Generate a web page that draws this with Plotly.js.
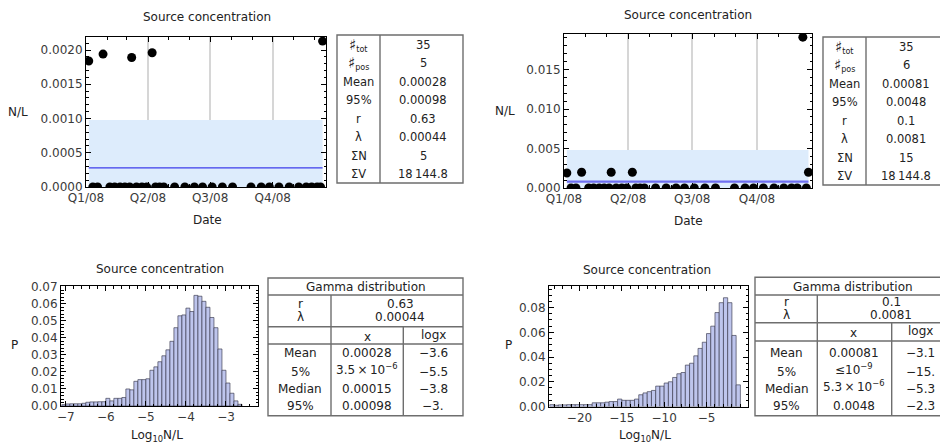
<!DOCTYPE html>
<html><head><meta charset="utf-8">
<script src="https://cdn.plot.ly/plotly-3.0.1.min.js"></script>
<style>html,body{margin:0;padding:0;background:#fff;}#chart{width:940px;height:448px;}</style>
</head><body><div id="chart"></div>
<script>
// ---------------- data ----------------
const sampleDates = ['2008-01-05','2008-01-11','2008-01-18','2008-01-26','2008-02-05','2008-02-12','2008-02-20','2008-02-27','2008-03-05','2008-03-08',
  '2008-03-15','2008-03-23','2008-03-30','2008-04-07','2008-04-12','2008-04-18','2008-04-24','2008-05-10','2008-05-25','2008-06-08',
  '2008-06-20','2008-07-04','2008-07-19','2008-08-03','2008-08-30','2008-09-14','2008-09-26','2008-10-10','2008-10-25','2008-11-08',
  '2008-11-19','2008-11-27','2008-12-05','2008-12-10','2008-12-13'];
const concA = [0.00184,0,0,0.00194,0,0,0,0,0,0.00189,
  0,0,0,0.00196,0,0,0,0,0,0,
  0,0,0,0,0,0,0,0,0,0,
  0,0,0,0,0.00213];
const concB = [0.0019,0,0,0.0020,0,0,0,0,0,0.0020,
  0,0,0,0.0020,0,0,0,0,0,0,
  0,0,0,0,0,0,0,0,0,0,
  0,0,0.0191,0,0.0020];
const meanA = 0.00028, upperA = 0.00098;
const meanB = 0.00081, upperB = 0.0048;
const quarterTicks = ['2008-01-01','2008-04-01','2008-07-01','2008-10-01'];
const quarterLabels = ['Q1/08','Q2/08','Q3/08','Q4/08'];

const histABinStart = -7.1, histABinWidth = 0.1;
const histAProb = [0.0008,0.0012,0.0013,0.0013,0.0013,0.0016,0.0022,0.0024,0.0024,0.0025,
  0.0025,0.0045,0.003,0.0045,0.0045,0.005,0.010,0.0095,0.0145,0.0155,
  0.0155,0.016,0.021,0.023,0.026,0.0295,0.033,0.038,0.046,0.053,
  0.0535,0.0575,0.0555,0.065,0.0645,0.0615,0.058,0.052,0.046,0.0335,
  0.021,0.0135,0.0075,0.003,0.001];
const histBBinStart = -23.5, histBBinWidth = 0.5;
const histBProb = [0.0015,0.001,0.0013,0.0013,0.0015,0.0015,0.0015,0.0015,0.0015,0.0015,
  0.003,0.003,0.003,0.0035,0.004,0.004,0.006,0.005,0.005,0.005,
  0.006,0.0095,0.011,0.012,0.013,0.0165,0.0165,0.019,0.020,0.0235,
  0.0265,0.0275,0.0335,0.035,0.041,0.047,0.052,0.059,0.065,0.076,
  0.084,0.088,0.084,0.0575,0.0175];

const SHARP = '<span style="font-size:15px">\u266F</span>';
const statLabels = [SHARP + '<sub>tot</sub>', SHARP + '<sub>pos</sub>','Mean','95%','r','\u03BB','\u03A3N','\u03A3V'];
const statsA = ['35','5','0.00028','0.00098','0.63','0.00044','5','18\u2009144.8'];
const statsB = ['35','6','0.00081','0.0048','0.1','0.0081','15','18\u2009144.8'];
const gammaTitle = 'Gamma distribution';
const gammaParamLabels = ['r','\u03BB'];
const gammaParamsA = ['0.63','0.00044'];
const gammaParamsB = ['0.1','0.0081'];
const gammaColHeads = ['x','logx'];
const gammaRowLabels = ['Mean','5%','Median','95%'];
const gammaXA = ['0.00028','3.5\u2009\u00D7\u200910<sup>\u22126</sup>','0.00015','0.00098'];
const gammaLogA = ['\u22123.6','\u22125.5','\u22123.8','\u22123.'];
const gammaXB = ['0.00081','\u226410<sup>\u22129</sup>','5.3\u2009\u00D7\u200910<sup>\u22126</sup>','0.0048'];
const gammaLogB = ['\u22123.1','\u221215.','\u22125.3','\u22122.3'];
const plotTitle = 'Source concentration';

// ---------------- helpers ----------------
const W = 940, H = 448;
const FONT = 'DejaVu Sans, Verdana, sans-serif';
const px = x => x / W;
const py = y => 1 - y / H;
const annotations = [];
const shapes = [];
function txt(x, y, text, size, extra) {
  annotations.push(Object.assign({xref:'paper', yref:'paper', x:px(x), y:py(y), text:text, showarrow:false,
    xanchor:'center', yanchor:'middle', font:{family:FONT, size:size, color:'#222'}}, extra || {}));
}
function line(x0, y0, x1, y1) {
  shapes.push({type:'line', xref:'paper', yref:'paper', x0:px(x0), y0:py(y0), x1:px(x1), y1:py(y1),
    line:{color:'#6e6e6e', width:1.4}});
}
function rect(x0, y0, x1, y1) {
  shapes.push({type:'rect', xref:'paper', yref:'paper', x0:px(x0), y0:py(y0), x1:px(x1), y1:py(y1),
    line:{color:'#6e6e6e', width:1.4}, fillcolor:'rgba(0,0,0,0)'});
}
function baseAxis(domain, anchor, extra) {
  return Object.assign({domain:domain, anchor:anchor, showline:true, linecolor:'#000', linewidth:1,
    mirror:'allticks', ticks:'inside', ticklen:5, tickcolor:'#000', tickwidth:1,
    tickfont:{family:FONT, size:12, color:'#3a3a3a'}, zeroline:false, showgrid:false, fixedrange:true}, extra);
}
const binCenters = (start, width, n) => Array.from({length:n}, (_, i) => start + width * (i + 0.5));

// ---------------- traces ----------------
const first = sampleDates[0], last = sampleDates[sampleDates.length - 1];
const traces = [];
function timePanel(xa, ya, conc, mean, upper, lineWidth, lineColor) {
  traces.push({type:'scatter', mode:'lines', x:[first, last, last, first, first], y:[0, 0, upper, upper, 0],
    fill:'toself', fillcolor:'rgb(221,236,252)', line:{width:0}, xaxis:xa, yaxis:ya, hoverinfo:'skip'});
  traces.push({type:'scatter', mode:'lines', x:[first, last], y:[mean, mean],
    line:{color:lineColor, width:lineWidth}, xaxis:xa, yaxis:ya});
  traces.push({type:'scatter', mode:'markers', x:sampleDates, y:conc,
    marker:{color:'#000', size:9}, xaxis:xa, yaxis:ya});
}
timePanel('x', 'y', concA, meanA, upperA, 1.3, 'rgb(60,60,235)');
timePanel('x2', 'y2', concB, meanB, upperB, 2.2, 'rgb(110,110,240)');

function histPanel(xa, ya, start, width, probs) {
  traces.push({type:'bar', x:binCenters(start, width, probs.length), y:probs,
    width:probs.map(() => width), xaxis:xa, yaxis:ya,
    marker:{color:'rgb(190,197,237)', line:{color:'rgba(55,55,75,0.65)', width:1}}});
}
histPanel('x3', 'y3', histABinStart, histABinWidth, histAProb);
histPanel('x4', 'y4', histBBinStart, histBBinWidth, histBProb);

// ---------------- axes ----------------
const dateAxis = (domain, anchor) => baseAxis(domain, anchor, {type:'date', range:['2008-01-01', '2008-12-18'],
  tickmode:'array', tickvals:quarterTicks, ticktext:quarterLabels, showgrid:true, gridcolor:'#d6d6d6', gridwidth:1.5,
  minor:{tickmode:'linear', tick0:'2008-01-01', dtick:'M1', ticks:'inside', ticklen:3, tickcolor:'#000', showgrid:false}});

const layout = {
  width:W, height:H, margin:{l:0, r:0, t:0, b:0}, paper_bgcolor:'#fff', plot_bgcolor:'#fff',
  showlegend:false, bargap:0, barmode:'overlay',
  xaxis: dateAxis([px(86), px(326)], 'y'),
  yaxis: baseAxis([py(187), py(37)], 'x', {range:[0, 0.00219], dtick:0.0005, tick0:0, tickformat:'.4f',
    minor:{dtick:0.0001, ticks:'inside', ticklen:2.5, tickcolor:'#000'}}),
  xaxis2: dateAxis([px(564), px(812)], 'y2'),
  yaxis2: baseAxis([py(188), py(34)], 'x2', {range:[0, 0.0195], dtick:0.005, tick0:0, tickformat:'.3f',
    minor:{dtick:0.001, ticks:'inside', ticklen:2.5, tickcolor:'#000'}}),
  xaxis3: baseAxis([px(61), px(258)], 'y3', {range:[-7.12, -2.2], dtick:1, tick0:0,
    minor:{dtick:0.2, ticks:'inside', ticklen:2.5, tickcolor:'#000'}}),
  yaxis3: baseAxis([py(406), py(286)], 'x3', {range:[0, 0.0705], dtick:0.01, tick0:0, tickformat:'.2f',
    minor:{dtick:0.002, ticks:'inside', ticklen:2.5, tickcolor:'#000'}}),
  xaxis4: baseAxis([px(549), px(748)], 'y4', {range:[-23.6, -0.1], dtick:5, tick0:0,
    minor:{dtick:1, ticks:'inside', ticklen:2.5, tickcolor:'#000'}}),
  yaxis4: baseAxis([py(406.5), py(286)], 'x4', {range:[0, 0.0975], dtick:0.02, tick0:0, tickformat:'.2f',
    minor:{dtick:0.005, ticks:'inside', ticklen:2.5, tickcolor:'#000'}}),
  annotations: annotations, shapes: shapes
};

// ---------------- titles and axis labels ----------------
txt(207, 17, plotTitle, 12);
txt(688, 15, plotTitle, 12);
txt(160, 269, plotTitle, 12);
txt(647, 270, plotTitle, 12);
txt(18, 112, 'N/L', 12);
txt(505, 111, 'N/L', 12);
txt(207, 220, 'Date', 12);
txt(688, 221, 'Date', 12);
txt(15, 345, 'P', 12);
txt(508, 345, 'P', 12);
txt(157, 436, 'Log<sub>10</sub>N/L', 12);
txt(645, 436, 'Log<sub>10</sub>N/L', 12);

// ---------------- stats tables (top) ----------------
function statTable(x0, x1, xDiv, y0, y1, labelX, valueX, values) {
  rect(x0, y0, x1, y1);
  line(xDiv, y0, xDiv, y1);
  const rowH = (y1 - y0) / statLabels.length;
  statLabels.forEach((lab, i) => {
    const yc = y0 + rowH * (i + 0.5) + 0.5;
    txt(labelX, yc, lab, 11.5);
    txt(valueX, yc, values[i], 11.5);
  });
}
statTable(337, 463, 380, 35, 183, 358.5, 423, statsA);
statTable(823, 950, 866, 37, 185, 844.5, 906, statsB);

// ---------------- gamma tables (bottom) ----------------
function gammaTable(g, params, xs, logs) {
  rect(g.x0, g.y0, g.x1, g.y1);
  line(g.x0, g.h1, g.x1, g.h1);
  line(g.x0, g.h2, g.x1, g.h2);
  line(g.x0, g.h3, g.x1, g.h3);
  line(g.v1, g.h1, g.v1, g.y1);
  line(g.v2, g.h2, g.v2, g.y1);
  txt((g.x0 + g.x1) / 2, (g.y0 + g.h1) / 2 + 0.5, gammaTitle, 12);
  const pc = (g.h1 + g.h2) / 2;
  txt(g.cLab, pc - 7, gammaParamLabels[0], 12);
  txt(g.cLab, pc + 6.5, gammaParamLabels[1], 12);
  txt(g.cPar, pc - 7, params[0], 12);
  txt(g.cPar, pc + 6.5, params[1], 12);
  const hc = (g.h2 + g.h3) / 2;
  txt(g.cX, hc + 1.5, gammaColHeads[0], 12);
  txt(g.cLog, hc - 0.5, gammaColHeads[1], 12);
  g.rows.forEach((yc, i) => {
    txt(g.cLab, yc, gammaRowLabels[i], 12);
    txt(g.cX, yc - (xs[i].indexOf('<sup>') >= 0 ? 3 : 0), xs[i], 12);
    txt(g.cLog, yc, logs[i], 12);
  });
}
gammaTable({x0:268, x1:463, y0:278, y1:415.7, h1:295, h2:326.7, h3:344, v1:331, v2:403.3,
  cLab:300, cPar:400, cX:367, cLog:433, rows:[353, 371.5, 389, 406]}, gammaParamsA, gammaXA, gammaLogA);
gammaTable({x0:755, x1:951, y0:277.3, y1:415.7, h1:295, h2:322.7, h3:341, v1:817.3, v2:891.7,
  cLab:786.5, cPar:891, cX:853.5, cLog:920, rows:[353, 372, 388.5, 406]}, gammaParamsB, gammaXB, gammaLogB);

Plotly.newPlot('chart', traces, layout, {staticPlot:true, displayModeBar:false});
</script>
</body></html>
